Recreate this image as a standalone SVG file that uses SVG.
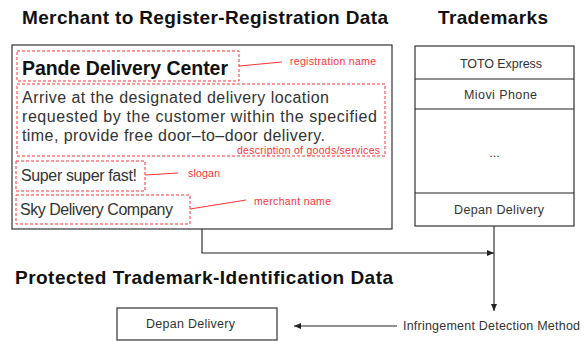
<svg xmlns="http://www.w3.org/2000/svg" width="586" height="341" viewBox="0 0 586 341">
<defs>
<style>
.title{font-family:"Liberation Sans","Open Sans",sans-serif;font-weight:bold;font-size:19px;fill:#111}
.box{fill:#fff;stroke:#333;stroke-width:1.2}
.red{fill:none;stroke:#f33;stroke-width:1;stroke-dasharray:3,2}
.rl{stroke:#f33;stroke-width:1;fill:none}
.rt{font-family:"Liberation Sans","Noto Sans",sans-serif;font-size:10.5px;fill:#f33}
.t{font-family:"Liberation Sans","Noto Sans",sans-serif;font-size:16px;fill:#333}
.s{font-family:"Liberation Sans","Noto Sans",sans-serif;font-size:12.5px;fill:#333}
.ln{stroke:#222;stroke-width:1.1;fill:none}
</style>
<marker id="ah" markerWidth="8" markerHeight="8" refX="7" refY="4" orient="auto" markerUnits="userSpaceOnUse">
<path d="M0,1 L7,4 L0,7 Z" fill="#222"/>
</marker>
</defs>
<rect width="586" height="341" fill="#fff"/>
<text class="title" x="22" y="24" textLength="366">Merchant to Register-Registration Data</text>
<text class="title" x="438" y="24" textLength="110">Trademarks</text>
<text class="title" x="15" y="284" textLength="378">Protected Trademark-Identification Data</text>

<g id="merchant">
<rect class="box" x="12" y="45" width="380" height="184"/>
<rect class="red" x="17" y="51" width="222" height="30"/>
<text x="22" y="75" font-family="Liberation Sans, Open Sans, sans-serif" font-weight="bold" font-size="19.5" fill="#111" textLength="206">Pande Delivery Center</text>
<path class="rl" d="M239,66 L282,62"/>
<text class="rt" x="290" y="65" textLength="86">registration name</text>
<rect class="red" x="17" y="84" width="368" height="72"/>
<text class="t" x="22" y="103" textLength="307">Arrive at the designated delivery location</text>
<text class="t" x="22" y="122" textLength="355">requested by the customer within the specified</text>
<text class="t" x="22" y="141" textLength="303">time, provide free door–to–door delivery.</text>
<text class="rt" x="237" y="153.5" textLength="143">description of goods/services</text>
<rect class="red" x="16" y="161" width="129" height="30"/>
<text class="t" x="21" y="181" textLength="116">Super super fast!</text>
<path class="rl" d="M145,175 L178,173"/>
<text class="rt" x="188" y="177" textLength="32">slogan</text>
<rect class="red" x="16" y="195" width="174" height="29"/>
<text class="t" x="20" y="215" textLength="153">Sky Delivery Company</text>
<path class="rl" d="M190,209 L246,200"/>
<text class="rt" x="254" y="205" textLength="77">merchant name</text>
</g>

<g id="trademarks">
<rect class="box" x="415" y="46" width="159" height="180"/>
<path class="ln" d="M415,79 H574 M415,109 H574 M415,193 H574"/>
<text class="s" x="460" y="68" textLength="82">TOTO Express</text>
<text class="s" x="464" y="99" textLength="73">Miovi Phone</text>
<text class="s" x="494.5" y="157" text-anchor="middle">...</text>
<text class="s" x="454" y="214" textLength="90">Depan Delivery</text>
</g>

<g id="protected">
<rect class="box" x="117" y="308" width="160" height="32"/>
<text class="s" x="146" y="328" textLength="89">Depan Delivery</text>
</g>

<g id="method">
<text class="s" x="403" y="330" textLength="177">Infringement Detection Method</text>
</g>

<g id="connectors">
<path class="ln" d="M202,229 V253 H494" marker-end="url(#ah)"/>
<path class="ln" d="M494,226 V311" marker-end="url(#ah)"/>
<path class="ln" d="M397,326 H294" marker-end="url(#ah)"/>
</g>
</svg>
